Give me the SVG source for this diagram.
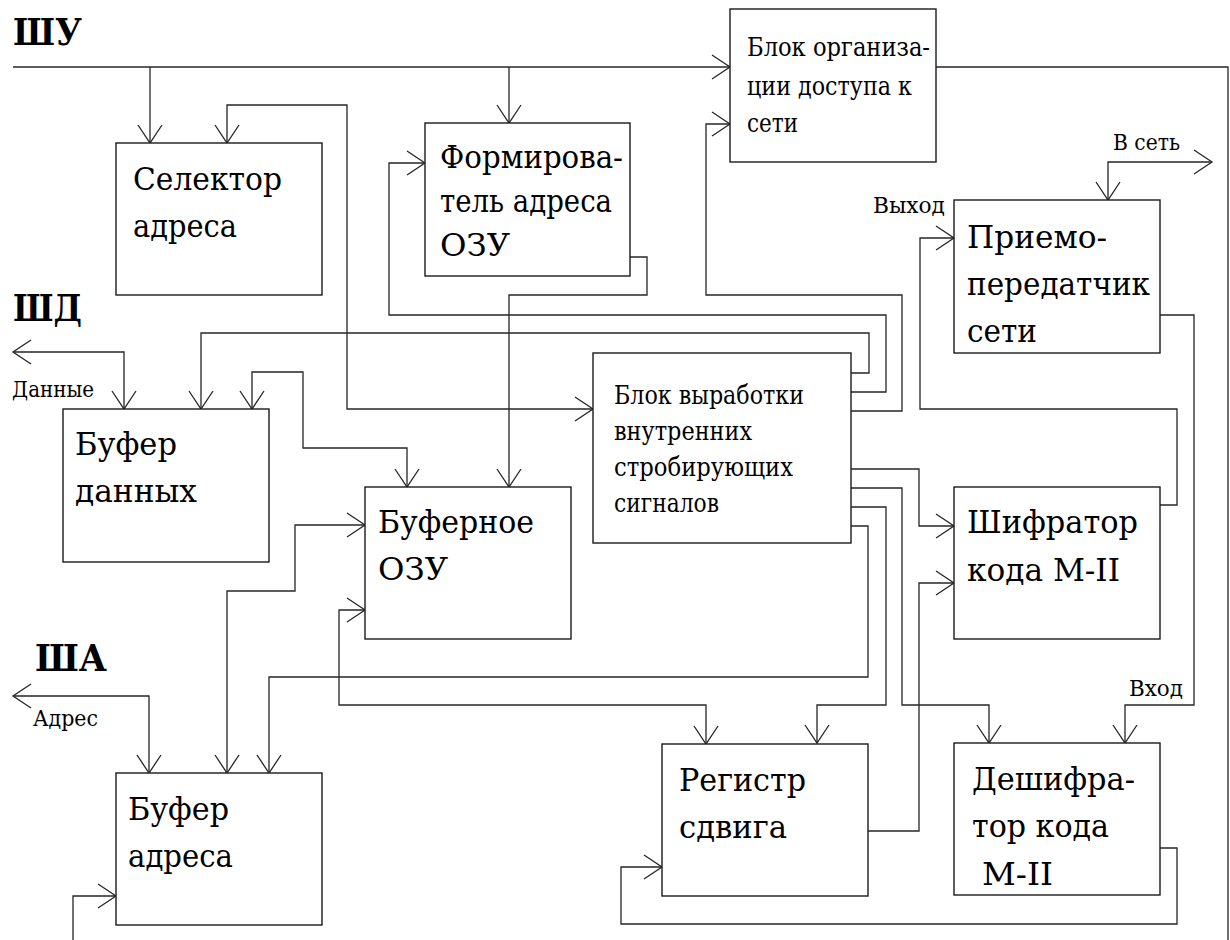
<svg xmlns="http://www.w3.org/2000/svg" width="1230" height="940" viewBox="0 0 1230 940">
  <style>
    .box { fill: #ffffff; stroke: #1a1a1a; stroke-width: 1.4; }
    .wire { fill: none; stroke: #262626; stroke-width: 1.3; }
    .in { marker-end: url(#arr); }
    .both { marker-start: url(#arr); marker-end: url(#arr); }
    text { font-family: "DejaVu Serif Condensed", "DejaVu Serif", "Liberation Serif", serif; fill: #000; }
    .big { font-size: 31.5px; }
    .mid { font-size: 26px; }
    .small { font-size: 22px; }
    .bus { font-family: "DejaVu Serif", "Liberation Serif", serif; font-size: 37px; font-weight: bold; }
  </style>
  <defs>
    <marker id="arr" markerUnits="userSpaceOnUse" markerWidth="24" markerHeight="30" refX="20" refY="13" orient="auto-start-reverse" viewBox="0 0 24 30">
      <path d="M2,1 L20,13 L2,25" fill="none" stroke="#262626" stroke-width="1.3"/>
    </marker>
  </defs>

  <rect width="1230" height="940" fill="#ffffff"/>

  <!-- bus labels -->
  <text class="bus" x="13" y="45" textLength="69" lengthAdjust="spacingAndGlyphs">ШУ</text>
  <text class="bus" x="13" y="321" textLength="69" lengthAdjust="spacingAndGlyphs">ШД</text>
  <text class="bus" x="35" y="671" textLength="72" lengthAdjust="spacingAndGlyphs">ША</text>

  <!-- connectors -->
  <g id="connectors">
    <path class="wire in" d="M13,67 H730"/>
    <path class="wire in" d="M150,67 V143"/>
    <path class="wire in" d="M509,67 V123"/>
    <path class="wire both" d="M227,143 V105 H347 V409 H593"/>
    <path class="wire" d="M936,67 H1228 V940"/>
    <path class="wire in" d="M851,411 H902 V295 H706 V124 H730"/>
    <path class="wire in" d="M851,392 H886 V315 H389 V163 H425"/>
    <path class="wire in" d="M851,373 H869 V333 H201 V409"/>
    <path class="wire in" d="M630,257 H647 V295 H509 V487"/>
    <path class="wire both" d="M13,352 H124 V409"/>
    <path class="wire both" d="M252,409 V372 H303 V448 H407 V487"/>
    <path class="wire both" d="M365,525 H295 V591 H227 V773"/>
    <path class="wire both" d="M365,610 H339 V705 H706 V744"/>
    <path class="wire both" d="M13,696 H149 V773"/>
    <path class="wire in" d="M851,526 H868 V677 H269 V773"/>
    <path class="wire in" d="M851,469 H919 V526 H954"/>
    <path class="wire in" d="M851,488 H902 V705 H989 V743"/>
    <path class="wire in" d="M851,507 H886 V705 H817 V743"/>
    <path class="wire in" d="M868,831 H919 V583 H954"/>
    <path class="wire in" d="M1160,505 H1177 V409 H920 V238 H954"/>
    <path class="wire both" d="M1212,162 H1108 V200"/>
    <path class="wire in" d="M1160,315 H1194 V705 H1125 V743"/>
    <path class="wire in" d="M1160,848 H1177 V924 H621 V867 H662"/>
    <path class="wire in" d="M73,940 V896 H116"/>
    <text class="small" x="12" y="397" textLength="82" lengthAdjust="spacingAndGlyphs">Данные</text>
    <text class="small" x="33" y="726" textLength="65" lengthAdjust="spacingAndGlyphs">Адрес</text>
    <text class="small" x="873" y="213" textLength="72" lengthAdjust="spacingAndGlyphs">Выход</text>
    <text class="small" x="1113" y="150" textLength="67" lengthAdjust="spacingAndGlyphs">В сеть</text>
    <text class="small" x="1129" y="696" textLength="54" lengthAdjust="spacingAndGlyphs">Вход</text>
  </g>

  <!-- blocks -->
  <g id="selector">
    <rect class="box" x="116" y="143" width="206" height="152"/>
    <text class="big" x="133" y="190" textLength="149" lengthAdjust="spacingAndGlyphs">Селектор</text>
    <text class="big" x="133" y="237" textLength="104" lengthAdjust="spacingAndGlyphs">адреса</text>
  </g>
  <g id="ram-address-former">
    <rect class="box" x="425" y="123" width="205" height="153"/>
    <text class="big" x="440" y="168" textLength="183" lengthAdjust="spacingAndGlyphs">Формирова-</text>
    <text class="big" x="440" y="212" textLength="172" lengthAdjust="spacingAndGlyphs">тель адреса</text>
    <text class="big" x="440" y="256" textLength="70" lengthAdjust="spacingAndGlyphs">ОЗУ</text>
  </g>
  <g id="access-block">
    <rect class="box" x="730" y="9" width="206" height="153"/>
    <text class="mid" x="747" y="56" textLength="183" lengthAdjust="spacingAndGlyphs">Блок организа-</text>
    <text class="mid" x="747" y="95" textLength="165" lengthAdjust="spacingAndGlyphs">ции доступа к</text>
    <text class="mid" x="747" y="132" textLength="51" lengthAdjust="spacingAndGlyphs">сети</text>
  </g>
  <g id="transceiver">
    <rect class="box" x="954" y="200" width="206" height="153"/>
    <text class="big" x="967" y="248" textLength="140" lengthAdjust="spacingAndGlyphs">Приемо-</text>
    <text class="big" x="967" y="295" textLength="183" lengthAdjust="spacingAndGlyphs">передатчик</text>
    <text class="big" x="967" y="342" textLength="70" lengthAdjust="spacingAndGlyphs">сети</text>
  </g>
  <g id="data-buffer">
    <rect class="box" x="63" y="409" width="206" height="153"/>
    <text class="big" x="75" y="455" textLength="102" lengthAdjust="spacingAndGlyphs">Буфер</text>
    <text class="big" x="75" y="502" textLength="122" lengthAdjust="spacingAndGlyphs">данных</text>
  </g>
  <g id="strobe-block">
    <rect class="box" x="593" y="353" width="258" height="190"/>
    <text class="mid" x="614" y="404" textLength="190" lengthAdjust="spacingAndGlyphs">Блок выработки</text>
    <text class="mid" x="614" y="440" textLength="138" lengthAdjust="spacingAndGlyphs">внутренних</text>
    <text class="mid" x="614" y="476" textLength="179" lengthAdjust="spacingAndGlyphs">стробирующих</text>
    <text class="mid" x="614" y="512" textLength="105" lengthAdjust="spacingAndGlyphs">сигналов</text>
  </g>
  <g id="buffer-ram">
    <rect class="box" x="365" y="487" width="206" height="152"/>
    <text class="big" x="378" y="533" textLength="156" lengthAdjust="spacingAndGlyphs">Буферное</text>
    <text class="big" x="378" y="580" textLength="70" lengthAdjust="spacingAndGlyphs">ОЗУ</text>
  </g>
  <g id="encoder">
    <rect class="box" x="954" y="487" width="206" height="152"/>
    <text class="big" x="967" y="533" textLength="171" lengthAdjust="spacingAndGlyphs">Шифратор</text>
    <text class="big" x="967" y="581" textLength="153" lengthAdjust="spacingAndGlyphs">кода M-II</text>
  </g>
  <g id="address-buffer">
    <rect class="box" x="116" y="773" width="206" height="152"/>
    <text class="big" x="128" y="820" textLength="101" lengthAdjust="spacingAndGlyphs">Буфер</text>
    <text class="big" x="128" y="867" textLength="105" lengthAdjust="spacingAndGlyphs">адреса</text>
  </g>
  <g id="shift-register">
    <rect class="box" x="662" y="744" width="206" height="152"/>
    <text class="big" x="679" y="791" textLength="127" lengthAdjust="spacingAndGlyphs">Регистр</text>
    <text class="big" x="679" y="838" textLength="108" lengthAdjust="spacingAndGlyphs">сдвига</text>
  </g>
  <g id="decoder">
    <rect class="box" x="954" y="743" width="206" height="152"/>
    <text class="big" x="972" y="790" textLength="163" lengthAdjust="spacingAndGlyphs">Дешифра-</text>
    <text class="big" x="972" y="837" textLength="137" lengthAdjust="spacingAndGlyphs">тор кода</text>
    <text class="big" x="982" y="885" textLength="71" lengthAdjust="spacingAndGlyphs">M-II</text>
  </g>
</svg>
